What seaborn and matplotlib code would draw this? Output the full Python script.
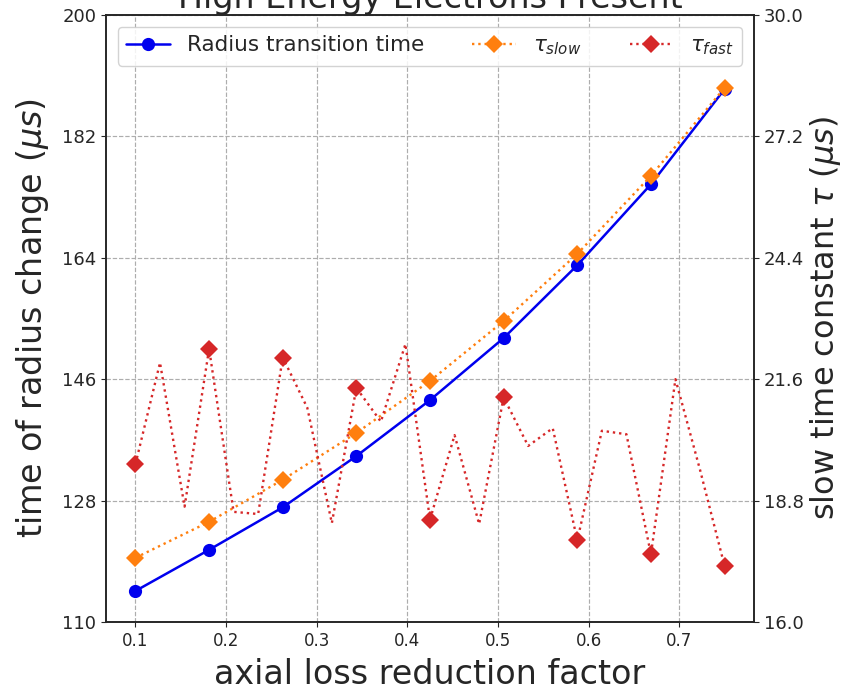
import matplotlib
matplotlib.use("Agg")
import matplotlib.pyplot as plt
import seaborn as sns
import pandas as pd

# axial loss reduction factor at the sampled runs
loss_factor = [0.1, 0.18125, 0.2625, 0.34375, 0.425, 0.50625, 0.5875, 0.66875, 0.75]
# finer sampling used for the fast time constant
loss_factor_fine = [0.1, 0.1271, 0.1542, 0.18125, 0.2083, 0.2354, 0.2625, 0.2896,
                    0.3167, 0.34375, 0.3708, 0.3979, 0.425, 0.4521, 0.4792, 0.50625,
                    0.5333, 0.5604, 0.5875, 0.6146, 0.6417, 0.66875, 0.6958, 0.7229, 0.75]

# time of radius change (us), left axis
radius_time = [114.6, 120.7, 127.0, 134.6, 142.9, 152.1, 162.9, 174.9, 189.0]
# slow time constant (us), right axis
tau_slow = [17.48, 18.31, 19.28, 20.36, 21.56, 22.94, 24.49, 26.29, 28.32]
# fast time constant (us), right axis
tau_fast = [19.64, 21.98, 18.66, 22.30, 18.54, 18.49, 22.10, 20.94, 18.28,
            21.40, 20.62, 22.41, 18.36, 20.31, 18.26, 21.18, 20.06, 20.47,
            17.88, 20.41, 20.33, 17.56, 21.60, 19.51, 17.29]

left_ticks = [110, 128, 146, 164, 182, 200]
right_ticks = [16.0, 18.8, 21.6, 24.4, 27.2, 30.0]
x_ticks = [0.1, 0.2, 0.3, 0.4, 0.5, 0.6, 0.7]

sns.set_style("ticks")
plt.rcParams["font.family"] = ["DejaVu Sans"]

df_main = pd.DataFrame({"x": loss_factor, "radius": radius_time, "slow": tau_slow})
df_fast = pd.DataFrame({"x": loss_factor_fine, "fast": tau_fast})

fig = plt.figure(figsize=(8.5, 6.91), dpi=100)
ax = fig.add_axes([0.1247, 0.0999, 0.7624, 0.8784])
ax2 = ax.twinx()

sns.lineplot(data=df_main, x="x", y="radius", ax=ax, color="#0000ee",
             marker="o", markersize=9.5, markeredgewidth=0, linewidth=1.8,
             label="Radius transition time")
sns.lineplot(data=df_main, x="x", y="slow", ax=ax2, color="#ff7f0e",
             marker="D", markersize=9, markeredgewidth=0, linewidth=1.7,
             linestyle=":", label=r"$\tau_{slow}$")
sns.lineplot(data=df_fast, x="x", y="fast", ax=ax2, color="#d62728",
             marker="D", markersize=9, markeredgewidth=0, linewidth=1.7,
             linestyle=":", markevery=3, label=r"$\tau_{fast}$")

for a in (ax, ax2):
    lg = a.get_legend()
    if lg is not None:
        lg.remove()

ax.set_xlim(0.0675, 0.7825)
ax.set_ylim(110, 200)
ax2.set_ylim(16.0, 30.0)
ax.set_xticks(x_ticks)
ax.set_xticklabels([f"{v:.1f}" for v in x_ticks], fontsize=12)
ax.set_yticks(left_ticks)
ax.set_yticklabels([str(v) for v in left_ticks], fontsize=13)
ax2.set_yticks(right_ticks)
ax2.set_yticklabels([f"{v:.1f}" for v in right_ticks], fontsize=13)

ax.grid(True, linestyle="--", color="0.68", linewidth=0.85)
ax2.grid(False)

ax.set_xlabel("axial loss reduction factor", fontsize=24, labelpad=6)
ax.set_ylabel(r"time of radius change ($\mu s$)", fontsize=24, labelpad=8)
ax2.set_ylabel(r"slow time constant $\tau$ ($\mu s$)", fontsize=23, labelpad=3)
ax.set_title("High Energy Electrons Present", fontsize=24, pad=4)

for a in (ax, ax2):
    for sp in a.spines.values():
        sp.set_visible(True)
        sp.set_color("0.15")
        sp.set_linewidth(1.2)

h1, l1 = ax.get_legend_handles_labels()
h2, l2 = ax2.get_legend_handles_labels()
ax2.legend(h1 + h2, l1 + l2, ncol=3, loc="upper left", mode="expand",
           bbox_to_anchor=(0, 0, 1, 1), fontsize=15.5, borderaxespad=0.55,
           framealpha=0.85)

fig.savefig("out.png", dpi=100)
